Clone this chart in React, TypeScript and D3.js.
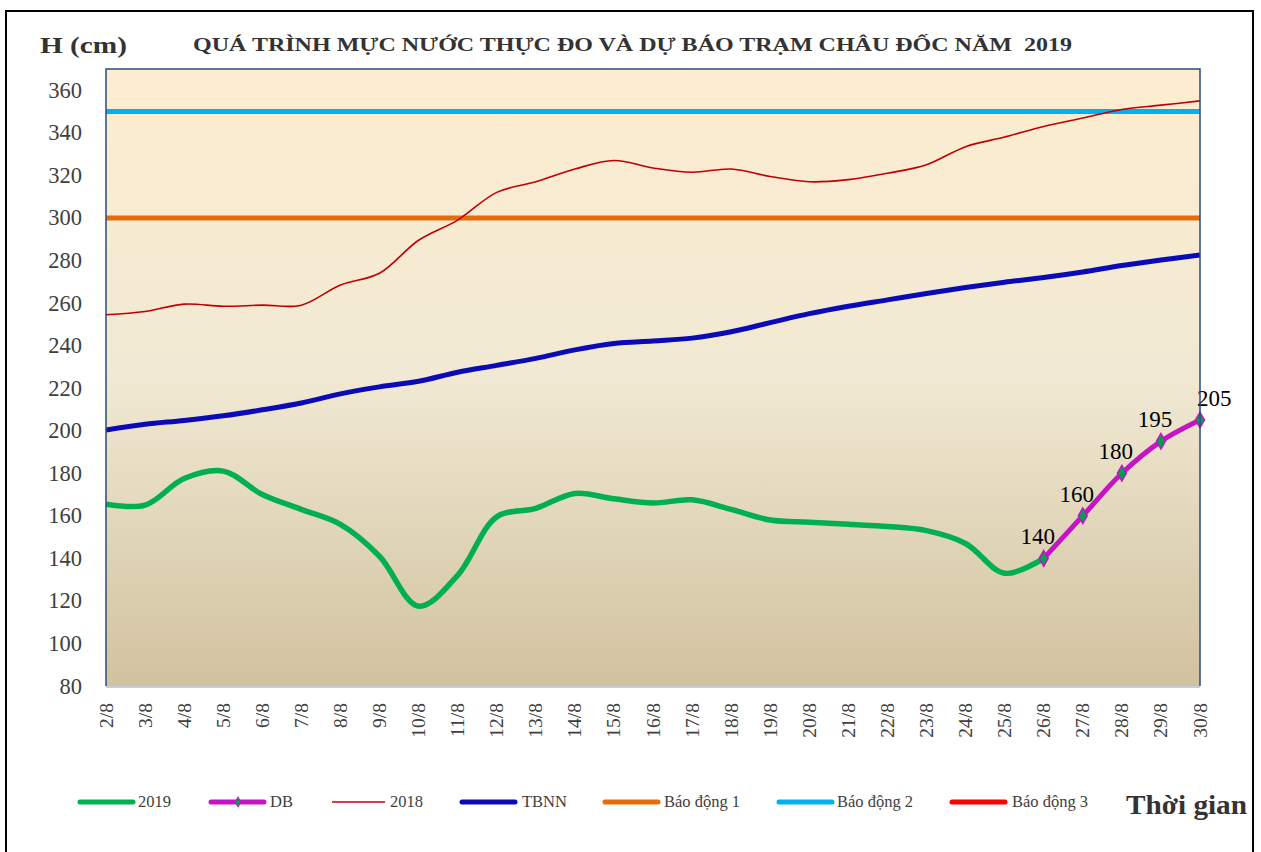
import React, { useRef, useEffect } from 'react';
import * as d3 from 'd3';

// date categories on the x axis
const dates = [
  '2/8', '3/8', '4/8', '5/8', '6/8', '7/8', '8/8', '9/8', '10/8', '11/8',
  '12/8', '13/8', '14/8', '15/8', '16/8', '17/8', '18/8', '19/8', '20/8', '21/8',
  '22/8', '23/8', '24/8', '25/8', '26/8', '27/8', '28/8', '29/8', '30/8',
];

// observed 2019 (ends at 26/8)
const obs2019 = [
  165.5, 165, 177.5, 181, 170, 163, 156, 141, 117.5, 132,
  159.5, 163.5, 170.5, 168, 166, 167.5, 163, 158, 157, 156,
  155, 153, 147, 133, 140,
];

// forecast DB from 26/8 to 30/8
const forecastStart = 24;
const forecast = [140, 160, 180, 195, 205];

const obs2018 = [
  254.5, 256, 259.5, 258.5, 259, 259, 268.5, 274, 289.5, 299,
  312, 317, 323, 327, 323.5, 321.5, 323, 319.5, 317, 318,
  321, 325, 333.5, 338, 343, 347, 351, 353, 355,
];

const tbnn = [
  200.3, 203, 204.8, 207, 209.8, 213, 217.3, 220.6, 223.2, 227.5,
  230.7, 234, 238, 241, 242.2, 243.5, 246.5, 250.8, 255, 258.5,
  261.5, 264.5, 267.3, 269.8, 272, 274.6, 277.6, 280.2, 282.6,
];

// alarm levels (cm)
const alarms = [
  { name: 'Báo động 1', value: 300, color: '#e46c0a' },
  { name: 'Báo động 2', value: 350, color: '#00b0f0' },
  { name: 'Báo động 3', value: 400, color: '#ff0000' },
];

const yTicks = [80, 100, 120, 140, 160, 180, 200, 220, 240, 260, 280, 300, 320, 340, 360];

const title = 'QUÁ TRÌNH MỰC NƯỚC THỰC ĐO VÀ DỰ BÁO TRẠM CHÂU ĐỐC NĂM  2019';

const SERIF = 'Liberation Serif, Times New Roman, serif';

const App = () => {
  const svgRef = useRef<SVGSVGElement>(null);

  useEffect(() => {
    const width = 1261;
    const height = 852;
    const plot = { left: 106, right: 1200, top: 69, bottom: 686 };

    const svg = d3.select(svgRef.current);
    svg.selectAll('*').remove();
    svg.attr('width', width).attr('height', height).style('font-family', SERIF);

    // outer frame
    svg.append('rect')
      .attr('x', 6).attr('y', 11).attr('width', 1247).attr('height', 850)
      .attr('fill', '#ffffff').attr('stroke', '#000').attr('stroke-width', 2);

    const x = d3.scalePoint<string>().domain(dates).range([plot.left, plot.right]);
    const y = d3.scaleLinear().domain([80, 370]).range([plot.bottom, plot.top]);

    // background gradient
    const defs = svg.append('defs');
    const grad = defs.append('linearGradient').attr('id', 'bg').attr('x1', 0).attr('y1', 0).attr('x2', 0).attr('y2', 1);
    grad.append('stop').attr('offset', '0%').attr('stop-color', '#fdedd0');
    grad.append('stop').attr('offset', '50%').attr('stop-color', '#f1e9d3');
    grad.append('stop').attr('offset', '100%').attr('stop-color', '#d1c29f');

    defs.append('clipPath').attr('id', 'plotclip').append('rect')
      .attr('x', plot.left).attr('y', plot.top)
      .attr('width', plot.right - plot.left).attr('height', plot.bottom - plot.top);

    svg.append('rect')
      .attr('x', plot.left).attr('y', plot.top)
      .attr('width', plot.right - plot.left).attr('height', plot.bottom - plot.top)
      .attr('fill', 'url(#bg)');

    // title texts
    svg.append('text')
      .attr('x', 40).attr('y', 53)
      .style('font-family', SERIF).attr('font-size', 24).attr('font-weight', 'bold')
      .attr('textLength', 87).attr('lengthAdjust', 'spacingAndGlyphs')
      .attr('fill', '#333').text('H (cm)');

    svg.append('text')
      .attr('x', 193).attr('y', 51)
      .style('font-family', SERIF).attr('font-size', 18).attr('font-weight', 'bold')
      .attr('fill', '#333')
      .attr('textLength', 879).attr('lengthAdjust', 'spacingAndGlyphs')
      .style('white-space', 'pre')
      .text(title);

    // y axis labels
    svg.append('g').selectAll('text').data(yTicks).join('text')
      .attr('x', 82).attr('y', d => y(d) + 7.5)
      .attr('text-anchor', 'end')
      .style('font-family', SERIF).attr('font-size', 22.5).attr('fill', '#404040')
      .text(d => d);

    // x axis labels, rotated
    svg.append('g').selectAll('text').data(dates).join('text')
      .attr('transform', d => `translate(${x(d)! + 6.5},703) rotate(-90)`)
      .attr('text-anchor', 'end')
      .style('font-family', SERIF).attr('font-size', 19.5).attr('fill', '#404040')
      .text(d => d);

    const g = svg.append('g').attr('clip-path', 'url(#plotclip)');

    // alarm lines
    alarms.forEach(a => {
      g.append('line')
        .attr('x1', plot.left).attr('x2', plot.right)
        .attr('y1', y(a.value)).attr('y2', y(a.value))
        .attr('stroke', a.color).attr('stroke-width', 5);
    });

    const line = d3.line<number>()
      .x((_, i) => x(dates[i])!)
      .y(d => y(d))
      .curve(d3.curveCatmullRom.alpha(0.5));

    g.append('path').datum(obs2018)
      .attr('fill', 'none').attr('stroke', '#c00000').attr('stroke-width', 1.6)
      .attr('d', line);

    g.append('path').datum(tbnn)
      .attr('fill', 'none').attr('stroke', '#0a0ab8').attr('stroke-width', 5)
      .attr('d', line);

    g.append('path').datum(obs2019)
      .attr('fill', 'none').attr('stroke', '#00b050').attr('stroke-width', 5.5)
      .attr('stroke-linejoin', 'round')
      .attr('d', line);

    const fLine = d3.line<number>()
      .x((_, i) => x(dates[forecastStart + i])!)
      .y(d => y(d))
      .curve(d3.curveCatmullRom.alpha(0.5));

    svg.append('path').datum(forecast)
      .attr('fill', 'none').attr('stroke', '#c414c4').attr('stroke-width', 5)
      .attr('stroke-linejoin', 'round')
      .attr('d', fLine);

    // diamond markers
    const diamond = d3.symbol().type(d3.symbolDiamond).size(70);
    svg.append('g').selectAll('path').data(forecast).join('path')
      .attr('transform', (d, i) => `translate(${x(dates[forecastStart + i])},${y(d)})`)
      .attr('d', diamond)
      .attr('fill', '#00a050').attr('stroke', '#c414c4').attr('stroke-width', 1.5);

    // data labels
    svg.append('g').selectAll('text').data(forecast).join('text')
      .attr('x', (d, i) => x(dates[forecastStart + i])! + (i === forecast.length - 1 ? -3 : -6))
      .attr('y', d => y(d) - 14)
      .attr('text-anchor', (d, i) => (i === forecast.length - 1 ? 'start' : 'middle'))
      .style('font-family', SERIF).attr('font-size', 23).attr('fill', '#000')
      .text(d => d);

    // plot borders
    svg.append('path')
      .attr('d', `M${plot.left},${plot.bottom}V${plot.top}H${plot.right}V${plot.bottom}`)
      .attr('fill', 'none').attr('stroke', '#2c4a7c').attr('stroke-width', 1.5);
    svg.append('line')
      .attr('x1', plot.left).attr('x2', plot.right)
      .attr('y1', plot.bottom + 1).attr('y2', plot.bottom + 1)
      .attr('stroke', '#c8ccd4').attr('stroke-width', 2);

    // legend
    const legend = [
      { name: '2019', color: '#00b050', w: 5, x: 80, tx: 138, marker: false },
      { name: 'DB', color: '#c414c4', w: 5, x: 211, tx: 270, marker: true },
      { name: '2018', color: '#c00000', w: 1.6, x: 332, tx: 390, marker: false },
      { name: 'TBNN', color: '#0a0ab8', w: 5, x: 462, tx: 522, marker: false },
      { name: alarms[0].name, color: alarms[0].color, w: 5, x: 605, tx: 664, marker: false },
      { name: alarms[1].name, color: alarms[1].color, w: 5, x: 779, tx: 837, marker: false },
      { name: alarms[2].name, color: alarms[2].color, w: 5, x: 952, tx: 1012, marker: false },
    ];
    const ly = 807;
    const lg = svg.append('g');
    legend.forEach(l => {
      lg.append('line')
        .attr('x1', l.x).attr('x2', l.x + 53)
        .attr('y1', ly - 5).attr('y2', ly - 5)
        .attr('stroke', l.color).attr('stroke-width', l.w)
        .attr('stroke-linecap', l.w > 2 ? 'round' : 'butt');
      if (l.marker) {
        lg.append('path')
          .attr('transform', `translate(${l.x + 27},${ly - 5})`)
          .attr('d', d3.symbol().type(d3.symbolDiamond).size(30)())
          .attr('fill', '#00a050').attr('stroke', '#c414c4').attr('stroke-width', 1);
      }
      lg.append('text')
        .attr('x', l.tx).attr('y', ly)
        .style('font-family', SERIF).attr('font-size', 16.5).attr('fill', '#404040')
        .text(l.name);
    });

    svg.append('text')
      .attr('x', 1126).attr('y', 814)
      .style('font-family', SERIF).attr('font-size', 27).attr('font-weight', 'bold')
      .attr('textLength', 121).attr('lengthAdjust', 'spacingAndGlyphs')
      .attr('fill', '#333').text('Thời gian');
  }, []);

  return (
    <svg ref={svgRef} style={{ position: 'absolute', left: 0, top: 0, display: 'block' }}></svg>
  );
};

export default App;
